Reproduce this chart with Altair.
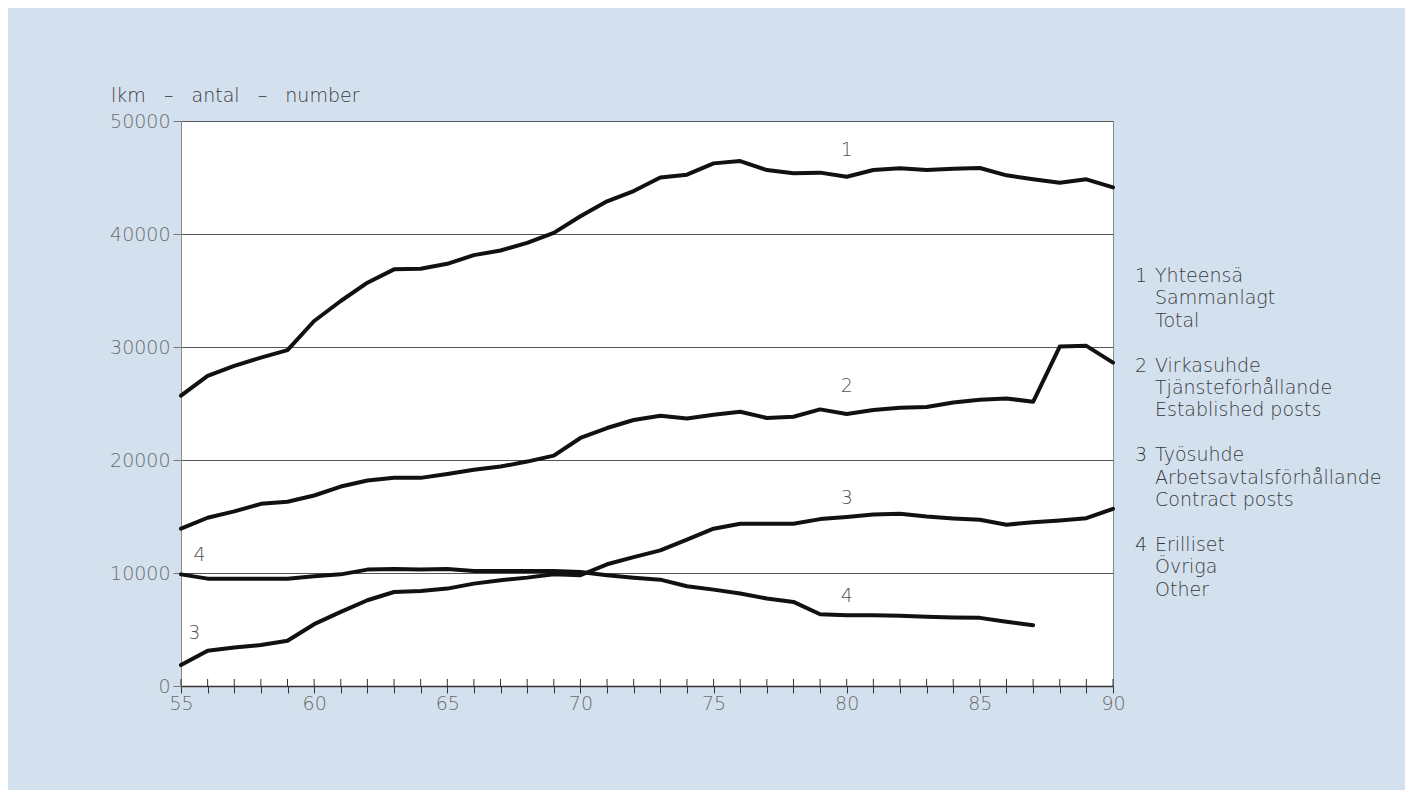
import altair as alt
import pandas as pd

years = list(range(55, 91))

total = [25700, 27450, 28330, 29060, 29720, 32300, 34070, 35690, 36870, 36920,
         37360, 38130, 38540, 39220, 40100, 41570, 42890, 43800, 45000, 45250,
         46250, 46450, 45660, 45370, 45430, 45070, 45660, 45810, 45660, 45780,
         45840, 45190, 44840, 44540, 44840, 44130]

established = [13920, 14890, 15450, 16120, 16300, 16860, 17650, 18180, 18420, 18420,
               18770, 19130, 19420, 19860, 20390, 21950, 22830, 23540, 23920, 23680,
               24010, 24270, 23720, 23830, 24480, 24070, 24420, 24620, 24690, 25090,
               25330, 25450, 25150, 30040, 30100, 28620]

contract = [1850, 3120, 3410, 3620, 4000, 5470, 6560, 7590, 8320, 8410,
            8620, 9060, 9360, 9590, 9880, 9800, 10770, 11410, 12000, 12950,
            13920, 14360, 14360, 14360, 14770, 14950, 15180, 15240, 15000, 14830,
            14710, 14270, 14500, 14650, 14850, 15680]

other_years = list(range(55, 88))
other = [9880, 9500, 9500, 9500, 9500, 9710, 9880, 10300, 10350, 10300,
         10350, 10180, 10180, 10180, 10180, 10090, 9800, 9590, 9410, 8830,
         8530, 8180, 7740, 7440, 6350, 6270, 6270, 6210, 6120, 6060,
         6030, 5680, 5380]

# in-chart series numbers (year, value)
num_text = ["1", "2", "3", "4", "4", "3"]
num_year = [80, 80, 80, 80, 55.7, 55.5]
num_value = [47450, 26550, 16650, 8000, 11550, 4650]

legend_groups = [
    ["Yhteensä", "Sammanlagt", "Total"],
    ["Virkasuhde", "Tjänsteförhållande", "Established posts"],
    ["Työsuhde", "Arbetsavtalsförhållande", "Contract posts"],
    ["Erilliset", "Övriga", "Other"],
]
legend_numbers = ["1", "2", "3", "4"]

y_title = "lkm\u00a0\u00a0\u00a0–\u00a0\u00a0\u00a0antal\u00a0\u00a0\u00a0–\u00a0\u00a0\u00a0number"

W, H = 932, 565
FONT = "DejaVu Sans"
TXT = 19

rows = []
for name, ys, vs in [("1", years, total), ("2", years, established),
                     ("3", years, contract), ("4", other_years, other)]:
    for yr, v in zip(ys, vs):
        rows.append({"series": name, "year": yr, "value": v})
df = pd.DataFrame(rows)

xscale = alt.Scale(domain=[55, 90], nice=False, zero=False)
yscale = alt.Scale(domain=[0, 50000], nice=False)

lines = alt.Chart(df).mark_line(color="#111111", strokeWidth=4, strokeJoin="round", strokeCap="round").encode(
    x=alt.X("year:Q", scale=xscale, title=None,
            axis=alt.Axis(values=years, tickCount=60, format="d",
                          labelExpr="datum.value % 5 == 0 ? datum.label : ''",
                          grid=False, tickSize=7, tickColor="#333333", tickWidth=1,
                          domainColor="#333333", domainWidth=1.5,
                          labelColor="#6a6a6a", labelFontSize=19, labelFont=FONT,
                          labelFontWeight=300, labelPadding=1, labelFlush=False,
                          labelOverlap=False, labelBound=False)),
    y=alt.Y("value:Q", scale=yscale, title=None,
            axis=alt.Axis(values=[0, 10000, 20000, 30000, 40000, 50000], format="d",
                          grid=True, gridColor="#555555", gridWidth=1,
                          tickSize=8, tickColor="#777777", domainColor="#8a8a8a",
                          labelColor="#6a6a6a", labelFontSize=19, labelFont=FONT,
                          labelFontWeight=300, labelPadding=3, labelOverlap=False)),
    detail="series:N",
)

# inward part of x ticks
tick_df = pd.DataFrame({"year": years})
inner_ticks = alt.Chart(tick_df).mark_rule(color="#333333", strokeWidth=1).encode(
    x=alt.X("year:Q", scale=xscale),
    y=alt.value(H),
    y2=alt.value(H - 7),
)

num_df = pd.DataFrame({"t": num_text, "year": num_year, "value": num_value})
nums = alt.Chart(num_df).mark_text(font=FONT, fontSize=TXT, fontWeight=300, color="#555555").encode(
    x=alt.X("year:Q", scale=xscale),
    y=alt.Y("value:Q", scale=yscale),
    text="t:N",
)

leg_rows = []
for gi, (num, grp) in enumerate(zip(legend_numbers, legend_groups)):
    for li, line in enumerate(grp):
        leg_rows.append({"num": num if li == 0 else "", "txt": line,
                         "py": 155 + gi * 89.7 + li * 22.3})
leg_df = pd.DataFrame(leg_rows)
leg_nums = alt.Chart(leg_df).mark_text(font=FONT, fontSize=TXT, fontWeight=300, color="#3a3a3a",
                                       align="left", baseline="middle").encode(
    x=alt.value(W + 22), y=alt.Y("py:Q", scale=None), text="num:N")
leg_txt = alt.Chart(leg_df).mark_text(font=FONT, fontSize=TXT, fontWeight=300, color="#3a3a3a",
                                      align="left", baseline="middle").encode(
    x=alt.value(W + 42), y=alt.Y("py:Q", scale=None), text="txt:N")

title_df = pd.DataFrame({"t": [y_title]})
title = alt.Chart(title_df).mark_text(font=FONT, fontSize=TXT, fontWeight=300, color="#3a3a3a",
                                      align="left", baseline="middle").encode(
    x=alt.value(-70), y=alt.value(-25), text="t:N")

chart = alt.layer(lines, inner_ticks, nums, leg_nums, leg_txt, title).properties(
    width=W, height=H,
    autosize=alt.AutoSizeParams(type="none"),
    padding={"left": 173, "top": 113, "right": 292, "bottom": 104},
    background="#d3e1ee",
).configure_view(fill="#ffffff", stroke="#8a8a8a", strokeWidth=1)

chart.save("out.html", embed_options={"renderer": "svg", "actions": False})
